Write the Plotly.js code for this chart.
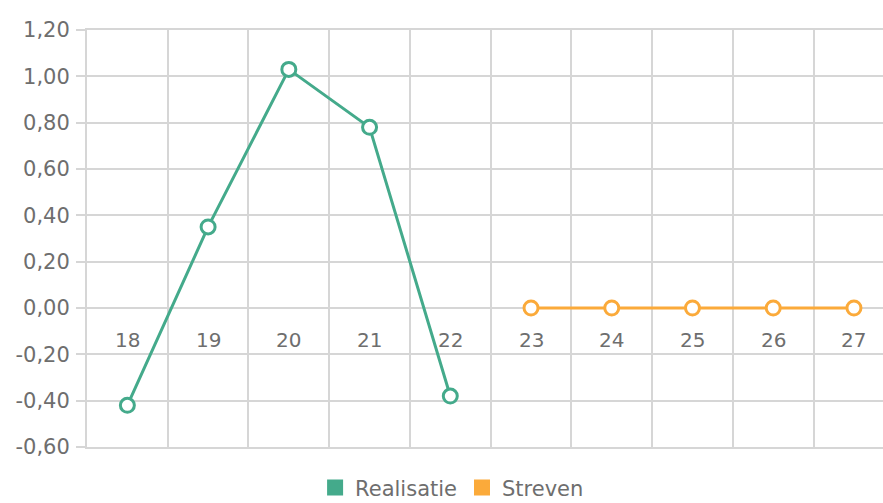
<!DOCTYPE html>
<html>
<head>
<meta charset="utf-8">
<script src="https://cdn.plot.ly/plotly-3.0.1.min.js"></script>
<style>html,body{margin:0;padding:0;background:#fff;}#chart{width:883px;height:503px;}</style>
</head>
<body>
<div id="chart"></div>
<script>
var categories = ['18','19','20','21','22','23','24','25','26','27'];
var realisatie = [-0.42, 0.35, 1.03, 0.78, -0.38, null, null, null, null, null];
var streven = [null, null, null, null, null, 0, 0, 0, 0, 0];
var yTickValues = [-0.6, -0.4, -0.2, 0, 0.2, 0.4, 0.6, 0.8, 1.0, 1.2];
var yTickLabels = ['-0,60','-0,40','-0,20','0,00','0,20','0,40','0,60','0,80','1,00','1,20'];

var GREEN = '#44aa8b', ORANGE = '#fbaa3a', GRID = '#d6d6d6', TXT = '#6e6e6e';
var FONT = 'DejaVu Sans, sans-serif';
var idx = categories.map(function(c, i){ return i; });

function series(name, vals, color){
  return {
    type: 'scatter', mode: 'lines+markers', name: name, showlegend: false,
    x: idx, y: vals, connectgaps: false,
    line: {color: color, width: 3},
    marker: {symbol: 'circle', size: 14, color: '#ffffff', line: {color: color, width: 3}},
    hoverinfo: 'skip'
  };
}
function legendItem(name, color){
  return {type: 'scatter', mode: 'markers', name: name, x: [null], y: [null],
    marker: {symbol: 'square', size: 17, color: color}, hoverinfo: 'skip'};
}

var data = [series('Realisatie', realisatie, GREEN), series('Streven', streven, ORANGE),
            legendItem('Realisatie', GREEN), legendItem('Streven', ORANGE)];

var annotations = categories.map(function(c, i){
  return {x: i, y: 0, xref: 'x', yref: 'y', text: c, showarrow: false,
    yanchor: 'middle', xanchor: 'center', yshift: -32,
    font: {family: FONT, size: 20, color: TXT}};
});

var layout = {
  width: 883, height: 503,
  margin: {l: 87, r: 0, t: 30, b: 56, pad: 0, autoexpand: false},
  paper_bgcolor: '#ffffff', plot_bgcolor: '#ffffff',
  showlegend: true,
  legend: {orientation: 'h', xref: 'container', yref: 'container',
    x: 0.512, xanchor: 'center', y: 0.03, yanchor: 'middle',
    font: {family: FONT, size: 21, color: TXT}, itemclick: false, itemdoubleclick: false,
    traceorder: 'normal', itemwidth: 30, tracegroupgap: 0},
  xaxis: {
    type: 'linear', range: [-0.5, 9.36], tick0: 0.5, dtick: 1,
    showgrid: true, gridcolor: GRID, gridwidth: 2,
    showticklabels: false, ticks: '', zeroline: false,
    showline: true, mirror: true, linecolor: GRID, linewidth: 2
  },
  yaxis: {
    range: [-0.6, 1.2], tickvals: yTickValues, ticktext: yTickLabels,
    showgrid: true, gridcolor: GRID, gridwidth: 2, zeroline: false,
    ticks: 'outside', ticklen: 9, tickwidth: 2, tickcolor: GRID,
    ticklabelstandoff: 2,
    showline: true, linecolor: GRID, linewidth: 2,
    tickfont: {family: FONT, size: 21, color: TXT}
  },
  annotations: annotations
};

Plotly.newPlot('chart', data, layout, {displayModeBar: false, staticPlot: true});
</script>
</body>
</html>
